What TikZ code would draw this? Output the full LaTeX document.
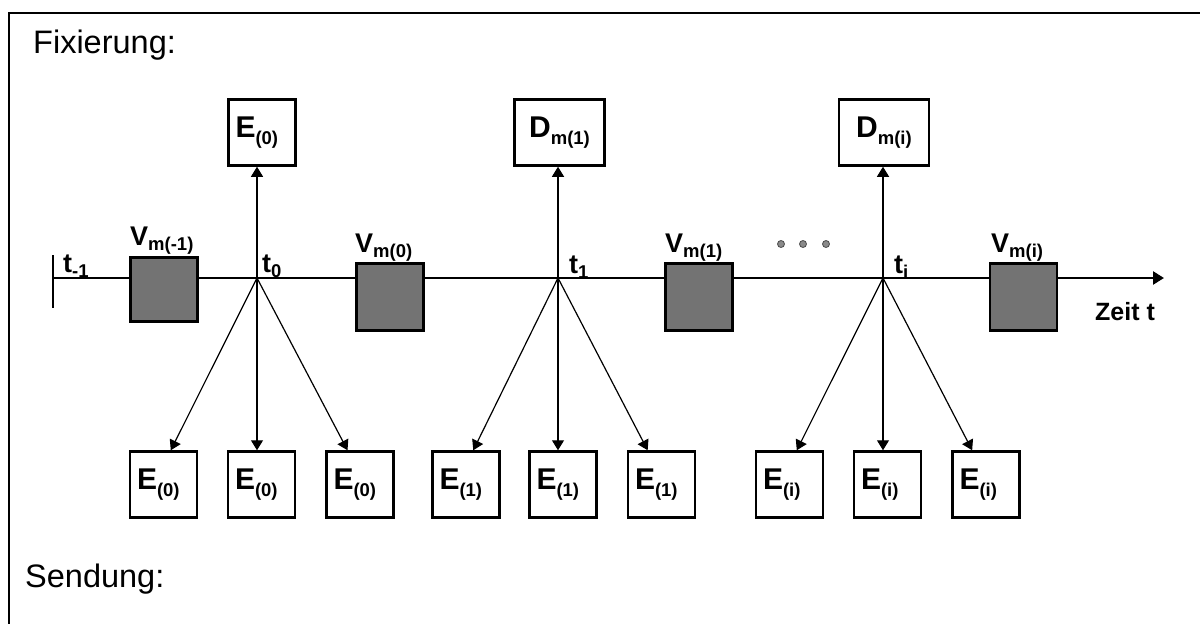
\documentclass[tikz,border=0pt]{standalone}
\usepackage{fontspec}
\setmainfont{Liberation Sans}
\usetikzlibrary{arrows.meta}

\definecolor{boxgray}{HTML}{737373}
\definecolor{dotgray}{HTML}{8A8A8A}
\newcommand{\lo}[1]{\raisebox{-0.22em}{\fontsize{18.5}{18.5}\selectfont #1}}

\tikzset{
    ebox/.style={draw, line width=2.5pt, minimum width=67pt, minimum height=66pt, inner sep=0pt,
        text width=53pt, align=left, font=\fontsize{30}{30}\selectfont\bfseries},
    dbox/.style={draw, line width=2.5pt, minimum width=90pt, minimum height=66pt, inner sep=0pt,
        font=\fontsize{30}{30}\selectfont\bfseries},
    vbox/.style={draw, line width=2.5pt, fill=boxgray, minimum width=67pt, minimum height=67pt, inner sep=0pt},
    lbl/.style={anchor=base west, inner sep=0pt, font=\fontsize{27}{27}\selectfont\bfseries},
    title/.style={anchor=base west, inner sep=0pt, font=\fontsize{32.5}{32.5}\selectfont},
    fire/.style={line width=1.2pt, -{Triangle[width=12pt,length=10pt]}},
}

\begin{document}
\begin{tikzpicture}[x=1pt, y=-1pt]
\useasboundingbox (0,0) rectangle (1200,624);
% frame (only left and top edge inside the picture)
\draw [line width=2.5pt] (9,640) |- (1210,13);

\node [title] (fix) at (33,53) {Fixierung:};
\node [title] (send) at (25,587) {Sendung:};

% time axis
\coordinate (start) at (53,278);
\coordinate (tzero) at (257,278);
\coordinate (tone) at (558,278);
\coordinate (ti) at (883,278);
\coordinate (axend) at (1164,278);
\draw [line width=2.5pt] (53,255) -- (53,308);
\draw [line width=2.5pt, -{Triangle[width=13pt,length=11pt]}] (start) -- (axend);

% processing boxes on the axis
\node [vbox, minimum height=64pt] (vmm) at (164,289.5) {};
\node [vbox] (vmzero) at (390,297) {};
\node [vbox] (vmone) at (699,297) {};
\node [vbox] (vmi) at (1023.5,297) {};

\node [lbl] (lvmm) at (130,245) {V\lo{m(-1)}};
\node [lbl] (lvmzero) at (355,252) {V\lo{m(0)}};
\node [lbl] (lvmone) at (665,252) {V\lo{m(1)}};
\node [lbl] (lvmi) at (991,252) {V\lo{m(i)}};

\node [lbl] (ltm) at (63,272) {t\lo{-1}};
\node [lbl] (ltzero) at (262,272) {t\lo{0}};
\node [lbl] (ltone) at (569,273) {t\lo{1}};
\node [lbl] (lti) at (894,273) {t\lo{i}};
\node [lbl, font=\fontsize{25}{25}\selectfont\bfseries] (zeit) at (1095,320) {Zeit t};

% dots
\foreach \x [count=\n] in {781,803,826}
    \node [circle, draw=black!70, fill=dotgray, line width=0.8pt, minimum size=7pt, inner sep=0pt] (dot\n) at (\x,244) {};

% boxes above the axis
\node [ebox] (ezerotop) at (262,132.5) {E\lo{(0)}};
\node [dbox] (dmone) at (559.5,132.5) {D\lo{m(1)}};
\node [dbox] (dmi) at (884,132.5) {D\lo{m(i)}};

\draw [fire] (tzero) -- (tzero |- ezerotop.south);
\draw [fire] (tone) -- (tone |- dmone.south);
\draw [fire] (ti) -- (ti |- dmi.south);

% boxes below the axis
\node [ebox] (ezeroa) at (163.5,484.5) {E\lo{(0)}};
\node [ebox] (ezerob) at (261.5,484.5) {E\lo{(0)}};
\node [ebox] (ezeroc) at (360,484.5) {E\lo{(0)}};
\node [ebox] (eonea) at (466,484.5) {E\lo{(1)}};
\node [ebox] (eoneb) at (563,484.5) {E\lo{(1)}};
\node [ebox] (eonec) at (661.5,484.5) {E\lo{(1)}};
\node [ebox] (eia) at (789.5,484.5) {E\lo{(i)}};
\node [ebox] (eib) at (887.5,484.5) {E\lo{(i)}};
\node [ebox] (eic) at (986,484.5) {E\lo{(i)}};

\draw [fire] (tzero) -- (ezeroa.78);
\draw [fire] (tzero) -- (tzero |- ezerob.north);
\draw [fire] (tzero) -- (ezeroc.110);
\draw [fire] (tone) -- (eonea.78);
\draw [fire] (tone) -- (tone |- eoneb.north);
\draw [fire] (tone) -- (eonec.112);
\draw [fire] (ti) -- (eia.78);
\draw [fire] (ti) -- (ti |- eib.north);
\draw [fire] (ti) -- (eic.112);
\end{tikzpicture}
\end{document}
